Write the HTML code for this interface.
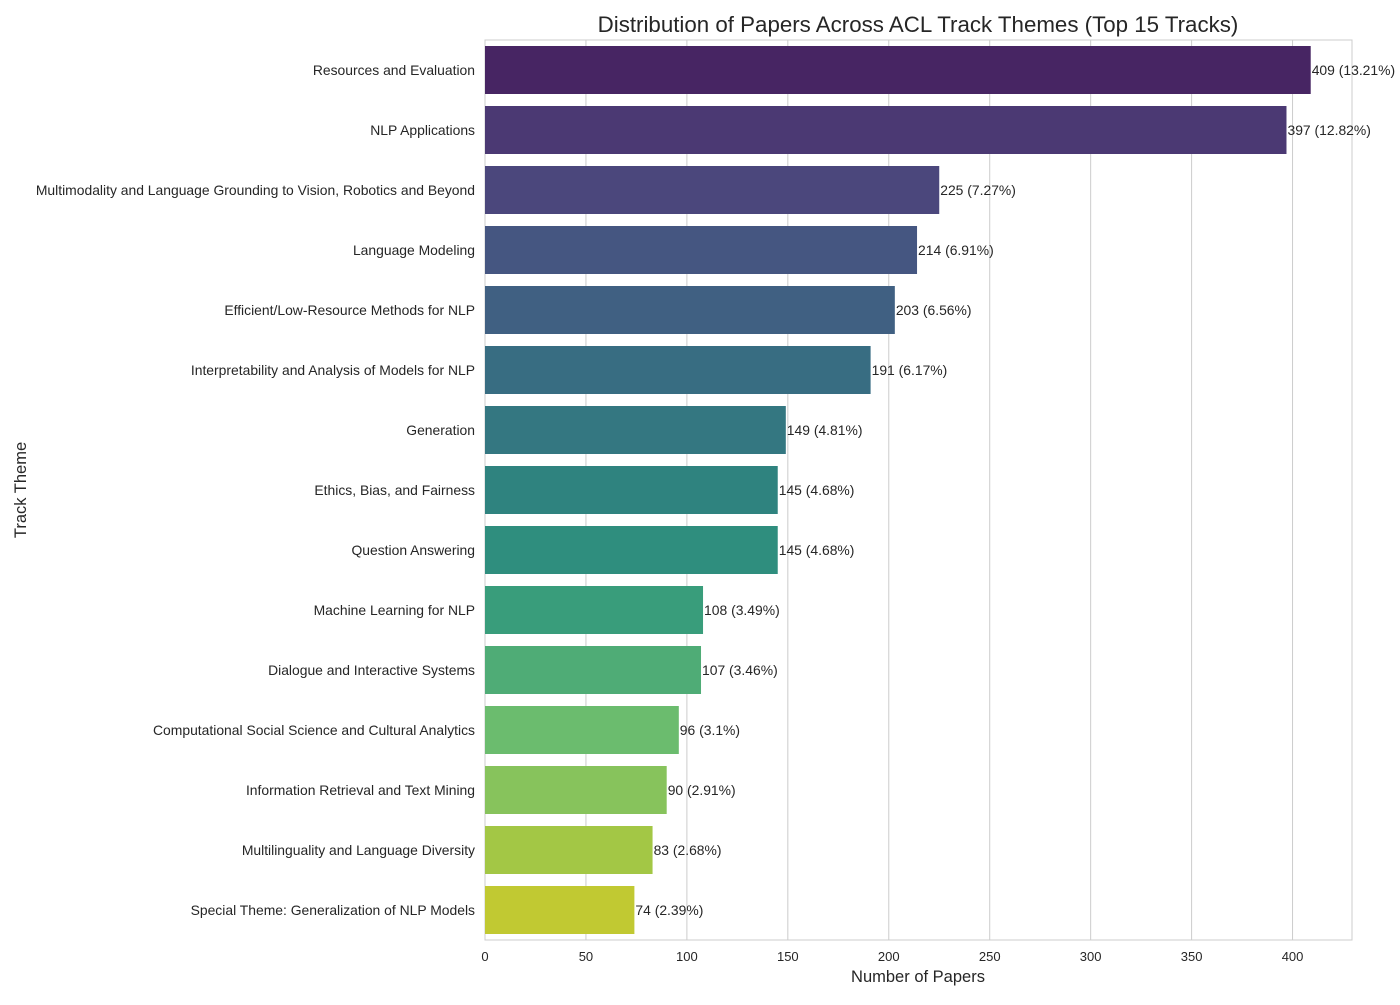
<!DOCTYPE html>
<html><head><meta charset="utf-8"><style>
body{margin:0;background:#fff;font-family:"Liberation Sans",Arial,sans-serif}
</style></head><body>
<svg id="chart" width="1400" height="1000" xmlns="http://www.w3.org/2000/svg" font-family="Liberation Sans, Arial, sans-serif">
<rect width="1400" height="1000" fill="#fff"/>
<g id="grid"></g><g id="bars"></g><g id="labels"></g>
<text x="918" y="32" text-anchor="middle" font-size="22.3" fill="#262626">Distribution of Papers Across ACL Track Themes (Top 15 Tracks)</text>
<text x="918" y="982" text-anchor="middle" font-size="16.5" fill="#262626">Number of Papers</text>
<text transform="translate(26,490) rotate(-90)" text-anchor="middle" font-size="16.5" fill="#262626">Track Theme</text>
</svg>
<script>
const categories=["Resources and Evaluation","NLP Applications","Multimodality and Language Grounding to Vision, Robotics and Beyond","Language Modeling","Efficient/Low-Resource Methods for NLP","Interpretability and Analysis of Models for NLP","Generation","Ethics, Bias, and Fairness","Question Answering","Machine Learning for NLP","Dialogue and Interactive Systems","Computational Social Science and Cultural Analytics","Information Retrieval and Text Mining","Multilinguality and Language Diversity","Special Theme: Generalization of NLP Models"];
const counts=[409,397,225,214,203,191,149,145,145,108,107,96,90,83,74];
const percents=["13.21","12.82","7.27","6.91","6.56","6.17","4.81","4.68","4.68","3.49","3.46","3.1","2.91","2.68","2.39"];
const xTicks=[0,50,100,150,200,250,300,350,400];
const viridis=["#481b6d","#472f7d","#433e85","#3b528b","#355f8d","#2c728e","#27808e","#21918c","#1f9e89","#28ae80","#3fbc73","#5ec962","#84d44b","#addc30","#d8e219"];
const NS="http://www.w3.org/2000/svg";
const L=485,R=1352,T=40,B=940;
const xmax=Math.max(...counts)*1.05;
const xs=v=>L+v/xmax*(R-L);
const band=(B-T)/categories.length;
const yc=i=>T+band*(i+0.5);
function desat(hex){let r=parseInt(hex.slice(1,3),16)/255,g=parseInt(hex.slice(3,5),16)/255,b=parseInt(hex.slice(5,7),16)/255;
let mx=Math.max(r,g,b),mn=Math.min(r,g,b),l=(mx+mn)/2,d=mx-mn,h=0,s=0;
if(d){s=l>0.5?d/(2-mx-mn):d/(mx+mn);h=mx===r?((g-b)/d+(g<b?6:0)):mx===g?((b-r)/d+2):((r-g)/d+4);h/=6;}
s*=0.75;const q=l<0.5?l*(1+s):l+s-l*s,p=2*l-q;
const f=t=>{t=(t+1)%1;return t<1/6?p+(q-p)*6*t:t<0.5?q:t<2/3?p+(q-p)*(2/3-t)*6:p;};
return "rgb("+[h+1/3,h,h-1/3].map(t=>Math.round(f(t)*255)).join(",")+")";}
function mk(tag,attrs,parent,text){const e=document.createElementNS(NS,tag);for(const k in attrs)e.setAttribute(k,attrs[k]);if(text!==undefined)e.textContent=text;parent.appendChild(e);return e;}
const grid=document.getElementById('grid'),bars=document.getElementById('bars'),labels=document.getElementById('labels');
xTicks.forEach(t=>{const x=xs(t);
const ln=mk('line',{x1:x,x2:x,y1:T,y2:B,stroke:'#cccccc','stroke-width':1},grid);


const tx=mk('text',{x:x,y:B+21,'text-anchor':'middle','font-size':13,fill:'#262626'},labels,String(t));

});
const fr=mk('rect',{x:L,y:T,width:R-L,height:B-T,fill:'none',stroke:'#cccccc','stroke-width':1},grid);


categories.forEach((c,i)=>{const y=yc(i),h=band*0.8;
const r=mk('rect',{x:L,y:y-h/2,width:xs(counts[i])-L,height:h,fill:desat(viridis[i])},bars);


const lt=mk('text',{x:L-10,y:y+5,'text-anchor':'end','font-size':13.9,fill:'#262626'},labels,c);


const vt=mk('text',{x:xs(counts[i])+1,y:y+5,'font-size':13.9,fill:'#262626'},labels,counts[i]+" ("+percents[i]+"%)");

});
</script>
</body></html>
